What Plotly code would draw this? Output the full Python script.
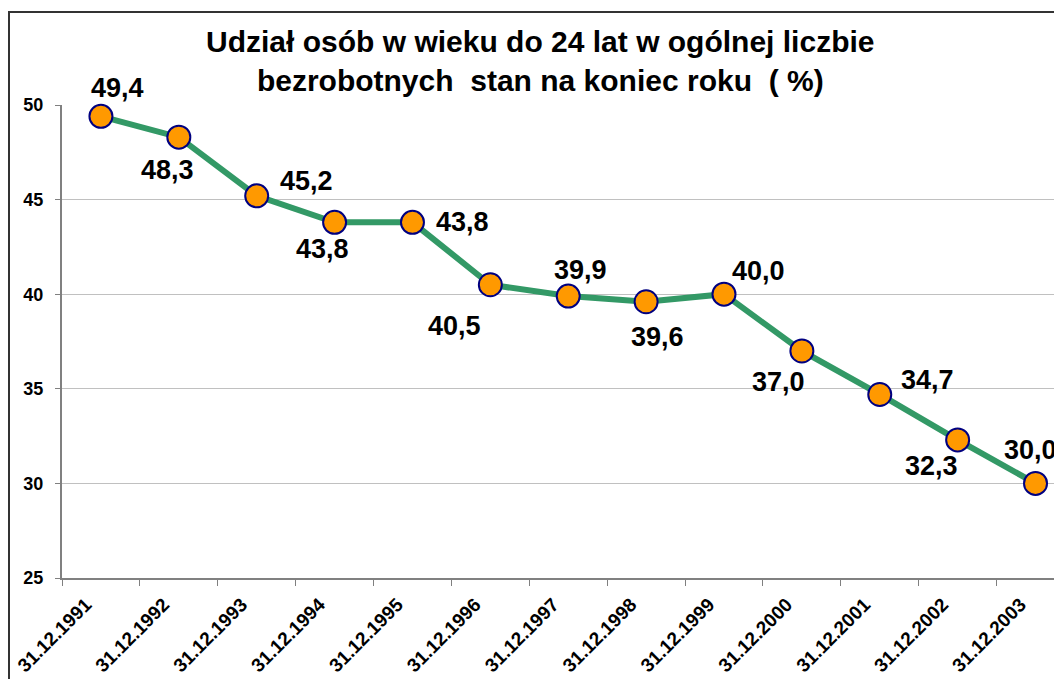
import plotly.graph_objects as go

categories = ["31.12.1991", "31.12.1992", "31.12.1993", "31.12.1994", "31.12.1995",
              "31.12.1996", "31.12.1997", "31.12.1998", "31.12.1999", "31.12.2000",
              "31.12.2001", "31.12.2002", "31.12.2003"]
values = [49.4, 48.3, 45.2, 43.8, 43.8, 40.5, 39.9, 39.6, 40.0, 37.0, 34.7, 32.3, 30.0]
labels = ["49,4", "48,3", "45,2", "43,8", "43,8", "40,5", "39,9", "39,6", "40,0",
          "37,0", "34,7", "32,3", "30,0"]
y_ticks = [25, 30, 35, 40, 45, 50]

# label offsets (pixels) relative to each point
label_shift = [(17, 28), (-11, -33), (50, 15), (-12, -27), (50, 0), (-36, -41),
               (12, 26), (11, -35), (35, 23), (-23, -31), (48, 14), (-26, -26), (-5, 33)]

FONT = "Liberation Sans, Arial, sans-serif"

fig = go.Figure()
fig.add_trace(go.Scatter(
    x=categories, y=values, mode="lines+markers",
    line=dict(color="#339966", width=6),
    marker=dict(size=23, color="#FF9900", line=dict(color="#000080", width=2)),
    cliponaxis=False, hoverinfo="skip", showlegend=False,
))

for c, v, t, (dx, dy) in zip(categories, values, labels, label_shift):
    fig.add_annotation(x=c, y=v, text=t, showarrow=False, xshift=dx, yshift=dy,
                       font=dict(family=FONT, size=27, color="black", weight="bold"))

fig.add_shape(type="rect", xref="paper", yref="paper",
              x0=-0.053, x1=1.2, y0=-0.5, y1=1.1966,
              line=dict(color="#333333", width=2), fillcolor="rgba(0,0,0,0)", layer="below")

fig.update_layout(
    width=1054, height=671,
    margin=dict(l=54, r=0, t=97, b=101, autoexpand=False),
    paper_bgcolor="white", plot_bgcolor="white",
    font=dict(family=FONT, color="black"),
    title=dict(text="Udział osób w wieku do 24 lat w ogólnej liczbie<br>bezrobotnych  stan na koniec roku  ( %)",
               x=0.505, xref="container", xanchor="center", y=0.934, yanchor="middle",
               font=dict(family=FONT, size=30, color="black", weight="bold")),
    xaxis=dict(type="category", range=[-0.5, 12.34], tickson="boundaries",
               ticks="outside", ticklen=6, tickcolor="#808080", tickwidth=1,
               showline=True, linecolor="#808080", linewidth=2, showgrid=False,
               tickangle=-45, automargin=False, ticklabelshift=-15, ticklabelstandoff=6,
               tickfont=dict(family=FONT, size=19, color="black", weight="bold"),
               categoryorder="array", categoryarray=categories),
    yaxis=dict(range=[25, 50], tickvals=y_ticks, ticks="outside", ticklen=5,
               tickcolor="#808080", showline=True, linecolor="#808080", linewidth=2,
               showgrid=True, gridcolor="#c0c0c0", gridwidth=1, zeroline=False,
               automargin=False,
               tickfont=dict(family=FONT, size=18, color="black", weight="bold"),
               ticklabelstandoff=8),
)

fig.write_html("out.html")
